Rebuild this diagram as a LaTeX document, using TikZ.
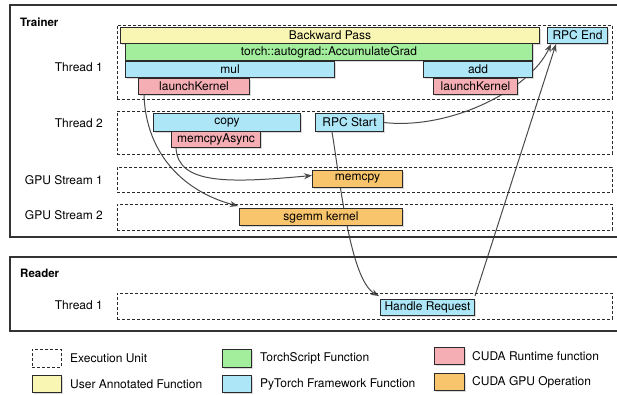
\documentclass[tikz,border=0pt]{standalone}
\usepackage{fontspec}
\setmainfont{TeX Gyre Heros}
\usetikzlibrary{arrows.meta,shadows,backgrounds}
\definecolor{frameline}{HTML}{333333}
\definecolor{boxline}{HTML}{2A2A2A}
\definecolor{connc}{HTML}{4A4A4A}
\definecolor{cyellow}{HTML}{F9F6B4}
\definecolor{cgreen}{HTML}{A3EE9C}
\definecolor{cblue}{HTML}{ADE6F7}
\definecolor{cpink}{HTML}{F5AEB4}
\definecolor{corange}{HTML}{F8C46C}
\tikzset{
  box/.style={draw=boxline, line width=1pt, inner sep=0pt, anchor=north west,
    drop shadow={shadow xshift=1pt, shadow yshift=-1pt, opacity=0.3}},
  unit/.style={draw=boxline, dashed, dash pattern=on 3pt off 2pt, line width=0.8pt,
    inner sep=0pt, anchor=north west},
  frm/.style={draw=frameline, line width=1.8pt},
  lbl/.style={anchor=east, inner sep=0pt},
  ttl/.style={anchor=west, inner sep=0pt, font=\fontsize{11.5}{13}\selectfont\bfseries},
  legtxt/.style={anchor=west, inner sep=0pt},
  conn/.style={draw=connc, line width=1pt, -{Stealth[length=8pt,width=6pt]}},
}
\begin{document}
\begin{tikzpicture}[x=1pt,y=-1pt, font=\fontsize{12}{14}\selectfont]
\useasboundingbox (0,0) rectangle (617,394);
\clip (0,0) rectangle (617,394);
% frames
\draw[frm] (10,5) rectangle (640,237);
\draw[frm] (10,257) rectangle (640,331);
\node[ttl] (trainer) at (20,22) {Trainer};
\node[ttl] (reader) at (20,273) {Reader};
% execution units
\node[unit, minimum width=495pt, minimum height=74pt] (u1) at (117,25) {};
\node[unit, minimum width=495pt, minimum height=43pt] (u2) at (117,111) {};
\node[unit, minimum width=495pt, minimum height=25pt] (u3) at (117,167) {};
\node[unit, minimum width=495pt, minimum height=26pt] (u4) at (117,204) {};
\node[unit, minimum width=495pt, minimum height=26pt] (u5) at (117,293) {};
\node[lbl] (l1) at (103,67) {Thread 1};
\node[lbl] (l2) at (103,123) {Thread 2};
\node[lbl] (l3) at (103,180) {GPU Stream 1};
\node[lbl] (l4) at (103,215) {GPU Stream 2};
\node[lbl] (l5) at (103,305) {Thread 1};
% operations
\node[box, fill=cyellow, minimum width=419pt, minimum height=16pt] (bp) at (120,27) {Backward Pass};
\node[box, fill=cgreen, minimum width=407pt, minimum height=17pt] (ag) at (125,43) {torch::autograd::AccumulateGrad};
\node[box, fill=cblue, minimum width=209pt, minimum height=16pt] (mul) at (125,61) {mul};
\node[box, fill=cblue, minimum width=109pt, minimum height=16pt] (add) at (423,61) {add};
\node[box, fill=cpink, minimum width=111pt, minimum height=16pt] (lk1) at (138,78) {launchKernel};
\node[box, fill=cpink, minimum width=84pt, minimum height=16pt] (lk2) at (433,78) {launchKernel};
\node[box, fill=cblue, minimum width=60pt, minimum height=16pt] (rpcend) at (547,27) {RPC End};
\node[box, fill=cblue, minimum width=147pt, minimum height=18pt] (copy) at (153,113) {copy};
\node[box, fill=cpink, minimum width=89pt, minimum height=16pt] (mca) at (171,131) {memcpyAsync};
\node[box, fill=cblue, minimum width=68pt, minimum height=18pt] (rpcstart) at (315,113) {RPC Start};
\node[box, fill=corange, minimum width=90pt, minimum height=17pt] (memcpy) at (312,170) {memcpy};
\node[box, fill=corange, minimum width=163pt, minimum height=17pt] (sgemm) at (239,208) {sgemm kernel};
\node[box, fill=cblue, minimum width=94pt, minimum height=16pt] (hr) at (380,299) {Handle Request};
% connectors
\begin{scope}[on background layer]
\draw[conn] ([xshift=6pt]lk1.south west) .. controls (146,155) and (185,192) .. ([xshift=-1pt,yshift=2pt]sgemm.north west);
\draw[conn] ([xshift=5pt]mca.south west) .. controls (178,185) and (230,183) .. ([yshift=3.5pt]memcpy.west);
\draw[conn] ([xshift=17pt]rpcstart.south west) .. controls (340,180) and (350,280) .. ([xshift=-1pt,yshift=3pt]hr.north west);
\draw[conn] (rpcstart.east) .. controls (450,130) and (530,90) .. ([xshift=4pt]rpcend.south west);
\draw[conn] ([yshift=3pt]hr.north east) -- ([xshift=9pt]rpcend.south west);
\end{scope}
% legend
\node[unit, minimum width=29pt, minimum height=18pt] (k1) at (32,349) {};
\node[legtxt] (t1) at (70,358) {Execution Unit};
\node[box, fill=cyellow, minimum width=29pt, minimum height=17pt] (k2) at (32,375) {};
\node[legtxt] (t2) at (70,384) {User Annotated Function};
\node[box, fill=cgreen, minimum width=29pt, minimum height=18pt] (k3) at (222,349) {};
\node[legtxt] (t3) at (260,358) {TorchScript Function};
\node[box, fill=cblue, minimum width=29pt, minimum height=17pt] (k4) at (222,375) {};
\node[legtxt] (t4) at (260,384) {PyTorch Framework Function};
\node[box, fill=cpink, minimum width=30pt, minimum height=17pt] (k5) at (434,347) {};
\node[legtxt] (t5) at (472,356) {CUDA Runtime function};
\node[box, fill=corange, minimum width=30pt, minimum height=17pt] (k6) at (434,373) {};
\node[legtxt] (t6) at (472,382) {CUDA GPU Operation};
\end{tikzpicture}
\end{document}
